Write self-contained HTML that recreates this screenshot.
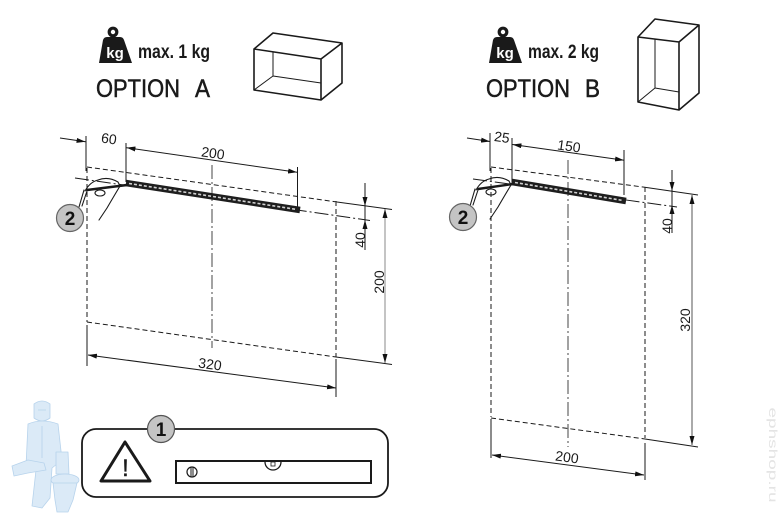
<!DOCTYPE html>
<html><head><meta charset="utf-8"><style>
html,body{margin:0;padding:0;background:#fff;}
svg{display:block;font-family:"Liberation Sans",Arial,sans-serif;}
</style></head><body>
<svg width="782" height="518" viewBox="0 0 782 518" xmlns="http://www.w3.org/2000/svg">
<defs>
<marker id="ar" viewBox="0 0 9 5" refX="9" refY="2.5" markerWidth="9" markerHeight="5" markerUnits="userSpaceOnUse" orient="auto-start-reverse"><path d="M0,0 L9,2.5 L0,5z" fill="#111"/></marker>
</defs>
<rect width="782" height="518" fill="#fff"/>

<!-- ===== HEADER A ===== -->
<g>
<circle cx="113" cy="32" r="3.8" fill="none" stroke="#1a1a1a" stroke-width="3.2"/>
<path d="M103,40 Q104,37 107,37 L120,37 Q123,37 124,40 L132,63 L99,63 Z" fill="#1a1a1a"/>
<text x="115" y="58" font-size="15" font-weight="bold" fill="#fff" text-anchor="middle">kg</text>
<text x="138" y="58" font-size="19" font-weight="bold" fill="#1a1a1a" textLength="72" lengthAdjust="spacingAndGlyphs">max. 1 kg</text>
<text x="96" y="97" font-size="25" fill="#1a1a1a" stroke="#1a1a1a" stroke-width="0.5" textLength="84" lengthAdjust="spacingAndGlyphs">OPTION</text>
<text x="195" y="97" font-size="25" fill="#1a1a1a" stroke="#1a1a1a" stroke-width="0.5" textLength="15" lengthAdjust="spacingAndGlyphs">A</text>
</g>
<g fill="none" stroke="#1a1a1a" stroke-linejoin="round">
<path d="M254,49 L273,33 L342,43 L342,83 L321,100 L254,90 Z M254,49 L321,59 L342,43 M321,59 L321,100" stroke-width="1.6"/>
<path d="M273,52 L273,76 L321,83 M273,76 L254,90" stroke-width="1"/>
</g>

<!-- ===== HEADER B ===== -->
<g>
<circle cx="503" cy="32" r="3.8" fill="none" stroke="#1a1a1a" stroke-width="3.2"/>
<path d="M493,40 Q494,37 497,37 L510,37 Q513,37 514,40 L522,63 L489,63 Z" fill="#1a1a1a"/>
<text x="505" y="58" font-size="15" font-weight="bold" fill="#fff" text-anchor="middle">kg</text>
<text x="528" y="58" font-size="19" font-weight="bold" fill="#1a1a1a" textLength="71" lengthAdjust="spacingAndGlyphs">max. 2 kg</text>
<text x="486" y="97" font-size="25" fill="#1a1a1a" stroke="#1a1a1a" stroke-width="0.5" textLength="84" lengthAdjust="spacingAndGlyphs">OPTION</text>
<text x="585" y="97" font-size="25" fill="#1a1a1a" stroke="#1a1a1a" stroke-width="0.5" textLength="15" lengthAdjust="spacingAndGlyphs">B</text>
</g>
<g fill="none" stroke="#1a1a1a" stroke-linejoin="round">
<path d="M638,37 L655,19 L699,25 L699,93 L679,110 L638,102 Z M638,37 L679,42 L699,25 M679,42 L679,110" stroke-width="1.6"/>
<path d="M655,39 L655,88 L679,92 M655,88 L638,102" stroke-width="1"/>
</g>

<!-- ===== DRAWING A ===== -->
<g fill="none" stroke="#1a1a1a" stroke-width="1">
<path d="M86,136 L86,171 M126,143 L126,182 M297.5,167 L297.5,210"/>
<line x1="60" y1="138" x2="85.5" y2="141.7" marker-end="url(#ar)"/>
<line x1="126.5" y1="147.7" x2="297" y2="172.3" marker-start="url(#ar)" marker-end="url(#ar)"/>
<path d="M87,167 L337,202 M87,168 L87,322 M87,322 L336,357 M336,201 L336,357" stroke-dasharray="5 3"/>
<path d="M337,202 L392,209.5 M336,357 L392,364.5"/>
<path d="M75,178 L370,220.5" stroke-dasharray="14 3 2 3"/>
<path d="M212,165 L212,348" stroke="#444" stroke-dasharray="14 3 2 3"/>
<path d="M87,325 L87,366 M336,359 L336,397"/>
<line x1="88" y1="355" x2="336" y2="388" marker-start="url(#ar)" marker-end="url(#ar)"/>
<line x1="365" y1="183" x2="365" y2="206" marker-end="url(#ar)"/>
<line x1="365" y1="250" x2="365" y2="220" marker-end="url(#ar)"/>
<line x1="365" y1="206" x2="365" y2="220"/>
<line x1="385" y1="209" x2="385" y2="363" stroke="#888" marker-start="url(#ar)" marker-end="url(#ar)"/>
</g>
<line x1="126" y1="183" x2="300" y2="210" stroke="#1e1e1e" stroke-width="6.5"/>
<line x1="129" y1="183.5" x2="297" y2="209.5" stroke="#fff" stroke-width="1.6" stroke-dasharray="3 2" opacity="0.8"/>
<g fill="none" stroke="#1a1a1a" stroke-width="1.1" stroke-linecap="round">
<path d="M84,190 L79,207 M87,191 L82,206"/>
<path d="M85,191 Q90,182 98,180 Q108,176 118,182 L120,186 Q114,196 107,208 L99,220"/>
<ellipse cx="100" cy="193" rx="5" ry="3"/>
<path d="M87,190 L127,185" stroke-width="2.4"/>
</g>
<circle cx="70" cy="218" r="13.5" fill="#c4c4c4" stroke="#666" stroke-width="1.2"/>
<text x="70" y="225" font-size="19" font-weight="bold" fill="#111" text-anchor="middle">2</text>
<g font-size="14" fill="#1a1a1a" text-anchor="middle">
<text x="109" y="143.5" transform="rotate(8 109 138.5)">60</text>
<text x="213" y="158" transform="rotate(8.2 213 153)">200</text>
<text x="210" y="369" transform="rotate(7.6 210 364)">320</text>
<text transform="translate(365,240) rotate(-90)">40</text>
<text transform="translate(384,282) rotate(-90)">200</text>
</g>

<!-- ===== DRAWING B ===== -->
<g fill="none" stroke="#1a1a1a" stroke-width="1">
<path d="M490,133 L490,171 M512,138 L512,183 M624,150 L624,195"/>
<line x1="467" y1="138" x2="490" y2="141.5" marker-end="url(#ar)"/>
<line x1="512.5" y1="144.5" x2="624" y2="160.2" marker-start="url(#ar)" marker-end="url(#ar)"/>
<path d="M491,167 L643,187 M491,168 L491,417 M491,418 L645,439 M645,187 L645,438" stroke-dasharray="5 3"/>
<path d="M643,187 L698,195 M645,439 L698,447"/>
<path d="M473,179 L677,207" stroke-dasharray="14 3 2 3"/>
<path d="M568,160 L568,447" stroke="#444" stroke-dasharray="14 3 2 3"/>
<path d="M491,419 L491,458 M645,443 L645,480"/>
<line x1="492" y1="455" x2="644" y2="475" marker-start="url(#ar)" marker-end="url(#ar)"/>
<line x1="672" y1="170" x2="672" y2="191" marker-end="url(#ar)"/>
<line x1="672" y1="233" x2="672" y2="205" marker-end="url(#ar)"/>
<line x1="672" y1="191" x2="672" y2="205"/>
<line x1="692" y1="195" x2="692" y2="445" stroke="#555" marker-start="url(#ar)" marker-end="url(#ar)"/>
</g>
<line x1="512" y1="182" x2="626" y2="201" stroke="#1e1e1e" stroke-width="6.5"/>
<line x1="515" y1="182.5" x2="623" y2="200.5" stroke="#fff" stroke-width="1.6" stroke-dasharray="3 2" opacity="0.8"/>
<g fill="none" stroke="#1a1a1a" stroke-width="1.1" stroke-linecap="round" transform="translate(391,-1)">
<path d="M84,190 L79,207 M87,191 L82,206"/>
<path d="M85,191 Q90,182 98,180 Q108,176 118,182 L120,186 Q114,196 107,208 L99,220"/>
<ellipse cx="100" cy="193" rx="5" ry="3"/>
<path d="M87,190 L122,185" stroke-width="2.4"/>
</g>
<circle cx="463" cy="217" r="13.5" fill="#c4c4c4" stroke="#666" stroke-width="1.2"/>
<text x="463" y="224" font-size="19" font-weight="bold" fill="#111" text-anchor="middle">2</text>
<g font-size="14" fill="#1a1a1a" text-anchor="middle">
<text x="502" y="142" transform="rotate(8 502 137)">25</text>
<text x="569" y="151" transform="rotate(8 569 146)">150</text>
<text x="567" y="462" transform="rotate(7.5 567 457)">200</text>
<text transform="translate(672,226) rotate(-90)">40</text>
<text transform="translate(690,320) rotate(-90)">320</text>
</g>

<!-- ===== WARNING BOX ===== -->
<rect x="82" y="429" width="306" height="68" rx="14" fill="#fff" stroke="#1a1a1a" stroke-width="1.8"/>
<circle cx="161" cy="429" r="13.5" fill="#c4c4c4" stroke="#555" stroke-width="1.2"/>
<text x="161" y="436" font-size="19" font-weight="bold" fill="#111" text-anchor="middle">1</text>
<path d="M125,442 L101,481 L150,481 Z" fill="none" stroke="#1a1a1a" stroke-width="3" stroke-linejoin="round"/>
<text x="125.5" y="476" font-size="24" fill="#1a1a1a" stroke="#1a1a1a" stroke-width="0.4" text-anchor="middle">!</text>
<rect x="176" y="461" width="195" height="22" fill="none" stroke="#1a1a1a" stroke-width="2"/>
<path d="M265,462 A8,8 0 0 0 281,462" fill="none" stroke="#1a1a1a" stroke-width="1.3"/>
<rect x="271" y="462" width="4" height="4" fill="none" stroke="#1a1a1a" stroke-width="0.8"/>
<circle cx="192" cy="472" r="5" fill="none" stroke="#1a1a1a" stroke-width="1.2"/>
<path d="M191,467 L191,477 M193,467 L193,477" stroke="#1a1a1a" stroke-width="1"/>

<!-- plumber watermark -->
<g fill="#dbeaf7" stroke="#b7d3ec" stroke-width="0.8" stroke-linejoin="round">
<path d="M34,404 Q42,398 50,404 L50,418 Q42,424 34,418 Z"/>
<path d="M28,424 Q42,418 58,424 L62,460 L52,468 L50,498 L42,508 L32,506 L36,470 L26,466 Z"/>
<path d="M12,466 L28,460 L44,463 L46,470 L28,473 L14,476 Z"/>
<path d="M56,452 L68,452 L69,474 L56,474 Z"/>
<ellipse cx="65" cy="480" rx="14" ry="6"/>
<path d="M53,483 L77,483 L73,500 L68,512 L57,512 L55,500 Z"/>
</g>
<path d="M38,410 L46,410 M42,426 L42,458" stroke="#b7d3ec" stroke-width="0.8" fill="none"/>

<!-- side watermark -->
<text transform="translate(769,455) rotate(90)" font-size="12" fill="#e4e4e4" text-anchor="middle" textLength="95" lengthAdjust="spacingAndGlyphs">ephshop.ru</text>
</svg>
</body></html>
